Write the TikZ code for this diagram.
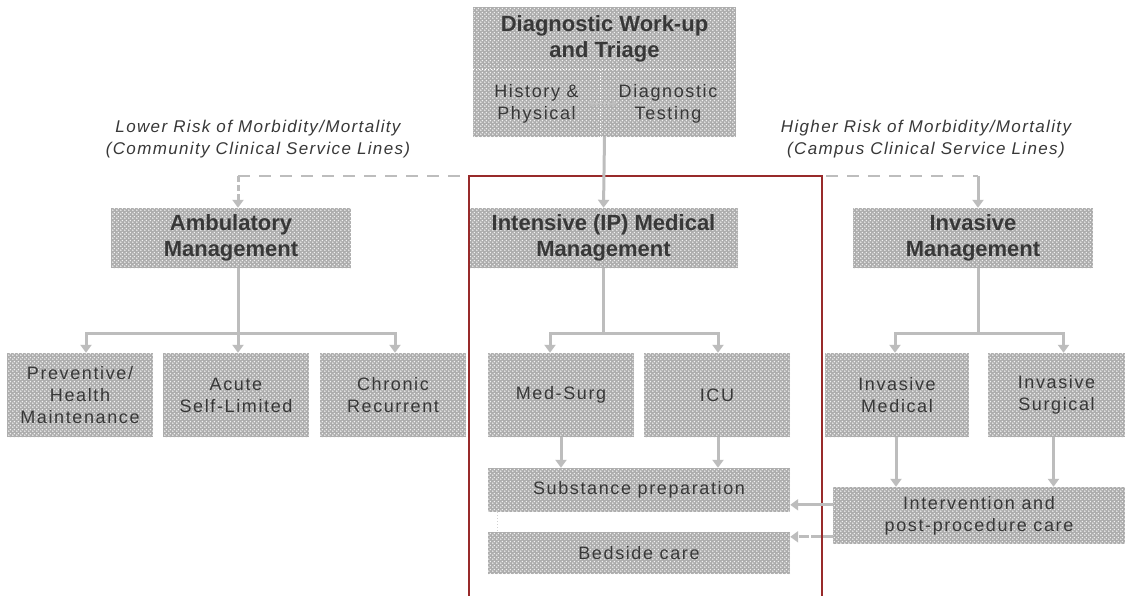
\documentclass[tikz,border=0pt]{standalone}
\usepackage{fontspec}
\setmainfont{Liberation Sans}
\newfontfamily\headfont{Liberation Sans}
\newfontfamily\bodyfont[LetterSpace=9]{Liberation Sans}
\newfontfamily\notefont[LetterSpace=8]{Liberation Sans}
\usetikzlibrary{patterns,arrows.meta}
\definecolor{boxbg}{HTML}{ADADAD}
\definecolor{boxdot}{HTML}{F2F2F2}
\definecolor{ink}{HTML}{383838}
\definecolor{conn}{HTML}{BDBDBD}
\definecolor{frame}{HTML}{982A2A}
% diagonal lattice of light dots for the shaded boxes
\pgfdeclarepatternformonly{lattice}{\pgfqpoint{0pt}{0pt}}{\pgfqpoint{4pt}{4pt}}{\pgfqpoint{4pt}{4pt}}{
  \pgfpathcircle{\pgfqpoint{1pt}{1pt}}{0.95pt}
  \pgfpathcircle{\pgfqpoint{3pt}{3pt}}{0.95pt}
  \pgfusepath{fill}
}
\tikzset{
  cell/.style={draw=none, preaction={fill=boxbg}, pattern=lattice,
    pattern color=boxdot, inner sep=0pt, align=center, text=ink},
  headbox/.style={cell, font=\headfont\bfseries\fontsize{22}{26}\selectfont},
  bodybox/.style={cell, font=\bodyfont\fontsize{18}{22}\selectfont},
  note/.style={text=ink, align=center, font=\notefont\itshape\fontsize{17}{22}\selectfont},
  link/.style={draw=conn, line width=3pt, -{Triangle[length=8pt,width=11pt]}},
  dashlink/.style={draw=conn, line width=2pt, dash pattern=on 12pt off 9pt},
}
\begin{document}
\begin{tikzpicture}[x=1pt,y=-1pt]
\useasboundingbox (0,0) rectangle (1125,595);
\fill[white] (0,0) rectangle (1125,595);

% triage block
\node[headbox, minimum width=263pt, minimum height=63pt] (diag) at (604.5,38.5) {Diagnostic Work-up\\and Triage};
\node[bodybox, minimum width=127pt, minimum height=67pt] (hp) at (536.5,103.5) {History \&\\Physical};
\node[bodybox, minimum width=136pt, minimum height=67pt] (dt) at (668,103.5) {Diagnostic\\Testing};
\draw[white, line width=1pt, dotted] (hp.north west) -- (dt.north east);
\draw[white, line width=1pt, dotted] (hp.north east) -- (hp.south east);
\draw[draw=conn, line width=2pt, {Triangle[length=5pt,width=7pt]}-{Triangle[length=5pt,width=7pt]}]
  ([xshift=-12pt]hp.east) -- ([xshift=17pt]dt.west);

% risk labels
\node[note] (lower) at (258,139) {Lower Risk of Morbidity/Mortality\\(Community Clinical Service Lines)};
\node[note] (higher) at (926,139) {Higher Risk of Morbidity/Mortality\\(Campus Clinical Service Lines)};

% management level
\node[headbox, minimum width=240pt, minimum height=60pt] (amb) at (231,238) {Ambulatory\\Management};
\node[headbox, minimum width=269pt, minimum height=60pt] (ipm) at (603.5,238) {Intensive (IP) Medical\\Management};
\node[headbox, minimum width=240pt, minimum height=60pt] (inv) at (973,238) {Invasive\\Management};

% care settings
\node[bodybox, minimum width=146pt, minimum height=84pt] (prev) at (80,395) {Preventive/\\Health\\Maintenance};
\node[bodybox, minimum width=146pt, minimum height=84pt] (acute) at (236,395) {Acute\\Self-Limited};
\node[bodybox, minimum width=146pt, minimum height=84pt] (chron) at (393,395) {Chronic\\Recurrent};
\node[bodybox, minimum width=146pt, minimum height=84pt] (med) at (561,395) {Med-Surg};
\node[bodybox, minimum width=146pt, minimum height=84pt] (icu) at (717,395) {ICU};
\node[bodybox, minimum width=144pt, minimum height=84pt] (invmed) at (897,395) {Invasive\\Medical};
\node[bodybox, minimum width=137pt, minimum height=84pt] (invsur) at (1056.5,395) {Invasive\\Surgical};

% services
\node[bodybox, minimum width=302pt, minimum height=44pt] (subst) at (639,490) {Substance preparation};
\node[bodybox, minimum width=302pt, minimum height=42pt] (bed) at (639,553) {Bedside care};
\node[bodybox, minimum width=292pt, minimum height=57pt] (interv) at (979,515.5) {Intervention and\\post-procedure care};

% split between lower and higher risk
\coordinate (lsplit) at (238,176);
\coordinate (rsplit) at (978,176);
\draw[dashlink] (lsplit) -- (rsplit);
\draw[link, dash pattern=on 6pt off 3pt] (lsplit) -- ([xshift=7pt]amb.north);
\draw[link] (rsplit) -- ([xshift=5pt]inv.north);

% inpatient frame
\draw[frame, line width=1.4pt] (469,600) -- (469,176) -- (822,176) -- (822,600);

\draw[link] (diag.south |- hp.south) -- (ipm.north);

% ambulatory branches
\draw[link] ([xshift=7pt]amb.south) -- ++(0,65) -| ([xshift=6pt]prev.north);
\draw[link] ([xshift=7pt]amb.south) -- ([xshift=2pt]acute.north);
\draw[link] ([xshift=7pt]amb.south) -- ++(0,65) -| ([xshift=2pt]chron.north);

% intensive branches
\draw[link] (ipm.south) -- ++(0,65) -| ([xshift=-11pt]med.north);
\draw[link] (ipm.south) -- ++(0,65) -| ([xshift=1pt]icu.north);
\draw[link] (med.south) -- (med.south |- subst.north);
\draw[link] ([xshift=1pt]icu.south) -- ([xshift=1pt]icu.south |- subst.north);
\draw[conn!70, line width=1pt, dotted] ([xshift=10pt]subst.south west) -- ([xshift=10pt]bed.north west);

% invasive branches
\draw[link] ([xshift=5pt]inv.south) -- ++(0,65) -| ([xshift=-2pt]invmed.north);
\draw[link] ([xshift=5pt]inv.south) -- ++(0,65) -| ([xshift=7pt]invsur.north);
\draw[link] ([xshift=-1pt]invmed.south) -- ([xshift=-1pt]invmed.south |- interv.north);
\draw[link] ([xshift=-3pt]invsur.south) -- ([xshift=-3pt]invsur.south |- interv.north);
\draw[link] ([yshift=-18pt]interv.north west) -- ([yshift=-18pt]interv.north west -| subst.east);
\draw[link, dash pattern=on 10pt off 2pt] ([yshift=-50pt]interv.north west) -- ([yshift=-50pt]interv.north west -| bed.east);
\end{tikzpicture}
\end{document}
